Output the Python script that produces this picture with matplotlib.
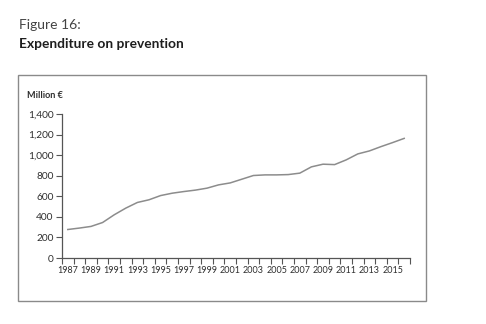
"""Line chart of annual expenditure on prevention, 1987-2016."""

import matplotlib
matplotlib.use("Agg")
import matplotlib.pyplot as plt
from matplotlib.patches import Rectangle
from matplotlib.ticker import FuncFormatter, FixedLocator

years = list(range(1987, 2017))
spending = [
    277, 291, 307, 345, 420, 485, 540, 566, 607, 630,
    646, 660, 679, 711, 730, 766, 802, 808, 808, 811,
    825, 886, 912, 908, 954, 1012, 1041, 1083, 1122, 1163,
]
label_years = list(range(1987, 2016, 2))
y_ticks = list(range(0, 1401, 200))

TEXT = "#2e2e2e"
AXIS = "#555555"
LINE = "#8c8c8c"

plt.rcParams["font.family"] = ["Lato", "DejaVu Sans"]

W, H = 486, 324
fig = plt.figure(figsize=(W / 100, H / 100), dpi=100)

# outer grey box round the chart
fig.add_artist(Rectangle((18 / W, 1 - 301 / H), 408 / W, 226 / H,
                         transform=fig.transFigure, fill=False,
                         edgecolor="#8a8a8a", linewidth=1.0))

fig.text(18.5 / W, 1 - 25 / H, "Figure 16:", fontsize=10.0, color="#444444",
         va="center", ha="left")
fig.text(18.5 / W, 1 - 43.5 / H, "Expenditure on prevention", fontsize=9.9,
         fontweight="bold", color="#1e1e1e", va="center", ha="left")
fig.text(27 / W, 1 - 96 / H, "Million €", fontsize=6.6, fontweight="bold",
         color=TEXT, va="center", ha="left")

ax = fig.add_axes([62 / W, 1 - 258 / H, 348 / W, 144 / H])
ax.plot(years, spending, color=LINE, linewidth=1.1, solid_joinstyle="round")

ax.set_xlim(1986.5, 2016.5)
ax.set_ylim(0, 1400)

for side in ("top", "right"):
    ax.spines[side].set_visible(False)
for side in ("left", "bottom"):
    ax.spines[side].set_color(AXIS)
    ax.spines[side].set_linewidth(0.9)

# year ticks sit on the boundaries, labels in the middle of each year
ax.xaxis.set_major_locator(FixedLocator(label_years))
ax.xaxis.set_minor_locator(FixedLocator([y - 0.5 for y in years] + [2016.5]))
ax.tick_params(axis="x", which="major", length=0, pad=5.5,
               labelsize=6.5, labelcolor=TEXT)
ax.tick_params(axis="x", which="minor", length=4, width=0.8,
               color=AXIS, direction="out")

ax.set_yticks(y_ticks)
ax.yaxis.set_major_formatter(FuncFormatter(lambda v, _: f"{int(v):,}"))
ax.tick_params(axis="y", length=4, width=0.8, color=AXIS, pad=2,
               labelsize=7.3, labelcolor=TEXT, direction="out")

fig.savefig("out.png", dpi=100, facecolor="white")
